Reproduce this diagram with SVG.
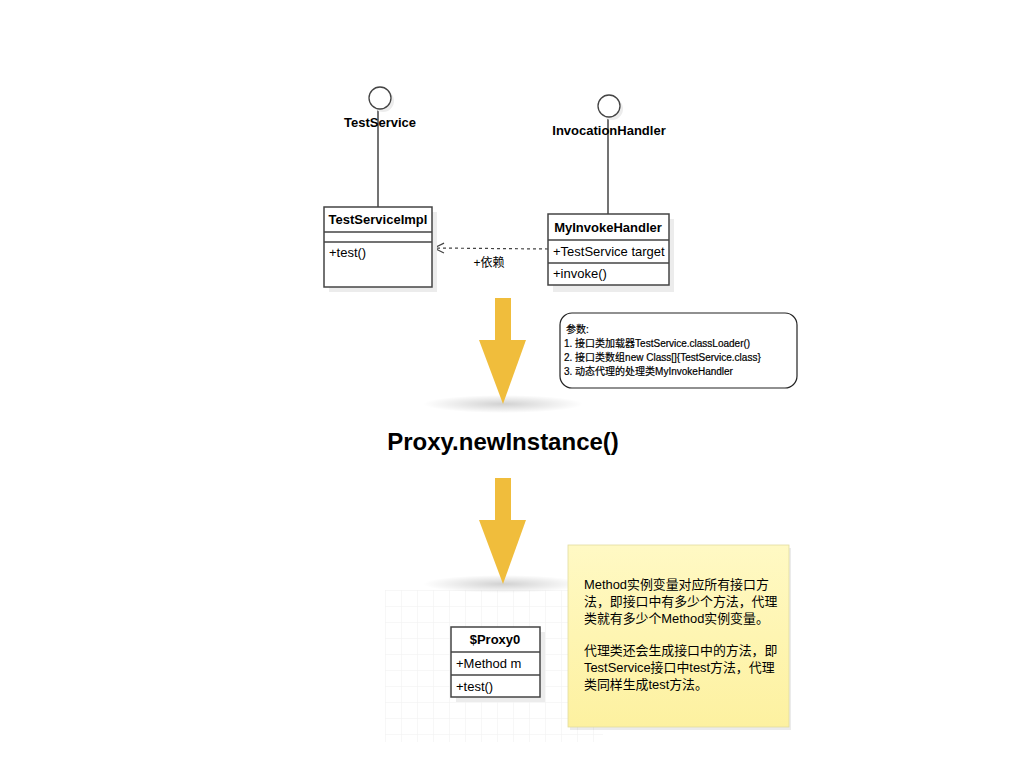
<svg xmlns="http://www.w3.org/2000/svg" width="1024" height="768" viewBox="0 0 1024 768">
<defs>
<style>
.t{font-family:"Liberation Sans","Noto Sans CJK SC",sans-serif;fill:#000}
.b{font-weight:bold}
.box{fill:#fff;stroke:#444;stroke-width:1.5}
.sh{fill:#ececec}
.ln{stroke:#444;stroke-width:1.5;fill:none}
.ar{fill:#f0bd3c}
.p{font-size:10px;stroke:#000;stroke-width:0.2}
</style>
<linearGradient id="yel" x1="0" y1="0" x2="0" y2="1">
<stop offset="0" stop-color="#fff9c4"/>
<stop offset="1" stop-color="#fdf1a0"/>
</linearGradient>
<radialGradient id="shd" cx="0.5" cy="0.5" r="0.5">
<stop offset="0" stop-color="#000" stop-opacity="0.18"/>
<stop offset="1" stop-color="#000" stop-opacity="0"/>
</radialGradient>
<marker id="open" markerWidth="14" markerHeight="14" refX="11" refY="6" orient="auto" markerUnits="userSpaceOnUse" overflow="visible">
<path d="M1,1 L11,6 L1,11" fill="none" stroke="#444" stroke-width="1.2"/>
</marker>
<pattern id="gp" width="16" height="16" patternUnits="userSpaceOnUse" x="385" y="590">
<path d="M16,0 L0,0 0,16" fill="none" stroke="#f0f0f0" stroke-width="1"/>
</pattern>
</defs>
<rect width="1024" height="768" fill="#fff"/>
<rect x="385" y="590" width="218" height="152" fill="url(#gp)"/>

<g id="connectors">
<line class="ln" x1="378" y1="109" x2="378" y2="207"/>
<line class="ln" x1="608" y1="117" x2="608" y2="214"/>
<line x1="548" y1="249" x2="434" y2="248" stroke="#444" stroke-width="1.2" stroke-dasharray="3,3" marker-end="url(#open)"/>
<text class="t" x="489" y="267" font-size="12" text-anchor="middle">+依赖</text>
</g>

<g id="TestService">
<circle cx="383" cy="101" r="11" class="sh"/>
<circle cx="380" cy="98" r="11" fill="#fff" stroke="#444" stroke-width="1.3"/>
<text class="t b" x="380" y="127" font-size="13" text-anchor="middle">TestService</text>
</g>

<g id="InvocationHandler">
<circle cx="612" cy="109" r="11" class="sh"/>
<circle cx="609" cy="106" r="11" fill="#fff" stroke="#444" stroke-width="1.3"/>
<text class="t b" x="609" y="135" font-size="13" text-anchor="middle">InvocationHandler</text>
</g>

<g id="TestServiceImpl">
<rect x="329" y="212" width="108" height="80" class="sh"/>
<rect x="324" y="207" width="108" height="80" class="box"/>
<line class="ln" x1="324" y1="232" x2="432" y2="232"/>
<line class="ln" x1="324" y1="242" x2="432" y2="242"/>
<text class="t b" x="378" y="224" font-size="13" text-anchor="middle">TestServiceImpl</text>
<text class="t" x="329" y="257" font-size="13">+test()</text>
</g>

<g id="MyInvokeHandler">
<rect x="553" y="219" width="121" height="73" class="sh"/>
<rect x="548" y="214" width="121" height="71" class="box"/>
<line class="ln" x1="548" y1="240" x2="669" y2="240"/>
<line class="ln" x1="548" y1="263" x2="669" y2="263"/>
<text class="t b" x="608" y="232" font-size="13" text-anchor="middle">MyInvokeHandler</text>
<text class="t" x="553" y="256" font-size="13">+TestService target</text>
<text class="t" x="553" y="278" font-size="13">+invoke()</text>
</g>

<g id="arrow1">
<ellipse cx="503" cy="404" rx="80" ry="9" fill="url(#shd)"/>
<rect class="ar" x="495" y="298" width="16" height="43"/>
<polygon class="ar" points="479,340 526,340 503,404"/>
</g>

<g id="params">
<rect x="560" y="313" width="237" height="75" rx="12" fill="#fff" stroke="#222" stroke-width="1.2"/>
<text class="t p" x="566" y="333">参数:</text>
<text class="t p" x="564" y="347">1. 接口类加载器TestService.classLoader()</text>
<text class="t p" x="564" y="361">2. 接口类数组new Class[]{TestService.class}</text>
<text class="t p" x="564" y="375">3. 动态代理的处理类MyInvokeHandler</text>
</g>

<g id="proxyNewInstance">
<text class="t b" x="503" y="450" font-size="24" text-anchor="middle">Proxy.newInstance()</text>
</g>

<g id="arrow2">
<ellipse cx="503" cy="584" rx="80" ry="9" fill="url(#shd)"/>
<rect class="ar" x="495" y="478" width="16" height="43"/>
<polygon class="ar" points="479,520 526,520 503,584"/>
</g>

<g id="Proxy0">
<rect x="456" y="632" width="89" height="70" class="sh"/>
<rect x="451" y="627" width="89" height="70" class="box"/>
<line class="ln" x1="451" y1="652" x2="540" y2="652"/>
<line class="ln" x1="451" y1="675" x2="540" y2="675"/>
<text class="t b" x="495" y="644" font-size="13" text-anchor="middle">$Proxy0</text>
<text class="t" x="456" y="668" font-size="13">+Method m</text>
<text class="t" x="456" y="691" font-size="13">+test()</text>
</g>

<g id="note">
<rect x="570" y="548" width="221" height="182" fill="#000" opacity="0.08"/>
<rect x="568" y="545" width="221" height="182" fill="url(#yel)" stroke="#e2dca0" stroke-width="0.8"/>
<text class="t" x="584" y="589" font-size="12.9">Method实例变量对应所有接口方</text>
<text class="t" x="584" y="606" font-size="12.9">法，即接口中有多少个方法，代理</text>
<text class="t" x="584" y="623" font-size="12.9">类就有多少个Method实例变量。</text>
<text class="t" x="584" y="655" font-size="12.9">代理类还会生成接口中的方法，即</text>
<text class="t" x="584" y="672" font-size="12.9">TestService接口中test方法，代理</text>
<text class="t" x="584" y="689" font-size="12.9">类同样生成test方法。</text>
</g>
</svg>
